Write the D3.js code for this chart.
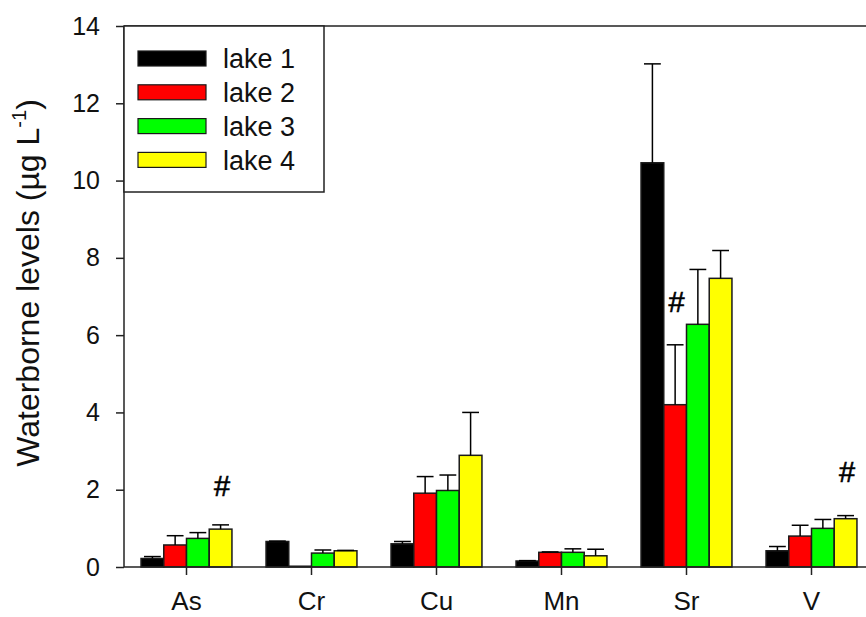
<!DOCTYPE html>
<html>
<head>
<meta charset="utf-8">
<script src="https://cdn.jsdelivr.net/npm/d3@7"></script>
<style>
	body { margin: 0; background: #fff; }
	svg { display: block; font-family: "Liberation Sans", Arial, sans-serif; }
</style>
</head>
<body>
<svg id="chart" width="866" height="617"></svg>
<script>
(function(){

	// metals on the x axis
	var categories = ["As", "Cr", "Cu", "Mn", "Sr", "V"];
	var seriesNames = ["lake 1", "lake 2", "lake 3", "lake 4"];
	var seriesColors = ["#000000", "#ff0000", "#00ff00", "#ffff00"];

	// means (µg/L) per lake, in category order
	var lake1 = [0.22, 0.66, 0.60, 0.155, 10.46, 0.42];
	var lake2 = [0.57, 0.02, 1.91, 0.38, 4.20, 0.80];
	var lake3 = [0.74, 0.36, 1.98, 0.38, 6.28, 1.00];
	var lake4 = [0.98, 0.42, 2.89, 0.29, 7.47, 1.25];

	// upper error (SD) per lake
	var err1 = [0.05, 0.01, 0.06, 0.01, 2.56, 0.11];
	var err2 = [0.24, 0.00, 0.43, 0.01, 1.55, 0.28];
	var err3 = [0.15, 0.08, 0.40, 0.09, 1.42, 0.23];
	var err4 = [0.11, 0.01, 1.11, 0.17, 0.72, 0.08];

	var yTicks = [0, 2, 4, 6, 8, 10, 12, 14];

	// "#" significance marks
	var markCats = ["As", "Sr", "V"];
	var markSeries = ["lake 4", "lake 2", "lake 4"];
	var markLevels = [2.1, 6.85, 2.47];

	var means = [lake1, lake2, lake3, lake4];
	var errs = [err1, err2, err3, err4];

	var bars = [];
	for(var s = 0; s < seriesNames.length; s++){
		for(var c = 0; c < categories.length; c++){
			bars.push({cat: categories[c], series: seriesNames[s], color: seriesColors[s], v: means[s][c], e: errs[s][c]});
		}
	}

	var margin = {top: 26, left: 124, bottom: 50};
	var svg = d3.select("#chart");
	var height = +svg.attr("height") - margin.top - margin.bottom;
	var plotRight = 874;
	var axisColor = "#222";

	var x0 = d3.scaleBand()
		.domain(categories)
		.range([margin.left, plotRight])
		.padding(0);

	var x1 = d3.scaleBand()
		.domain(seriesNames)
		.range([0, x0.bandwidth()])
		.paddingInner(0)
		.paddingOuter(0.75);

	var y = d3.scaleLinear()
		.domain([0, 14])
		.range([margin.top + height, margin.top]);

	var g = svg.append("g");

	// bars
	g.selectAll("rect.bar")
		.data(bars)
		.enter().append("rect")
			.attr("class", "bar")
			.attr("x", function(d){ return x0(d.cat) + x1(d.series); })
			.attr("y", function(d){ return y(d.v); })
			.attr("width", x1.bandwidth())
			.attr("height", function(d){ return y(0) - y(d.v); })
			.attr("fill", function(d){ return d.color; })
			.attr("stroke", "#1a1a1a")
			.attr("stroke-width", 1.5);

	// upper error bars
	var capHalf = x1.bandwidth() * 0.37;
	var eb = g.selectAll("g.err")
		.data(bars.filter(function(d){ return d.e > 0.005; }))
		.enter().append("g")
			.attr("class", "err")
			.attr("stroke", "#000")
			.attr("stroke-width", 1.5);

	eb.append("line")
		.attr("x1", function(d){ return x0(d.cat) + x1(d.series) + x1.bandwidth() / 2; })
		.attr("x2", function(d){ return x0(d.cat) + x1(d.series) + x1.bandwidth() / 2; })
		.attr("y1", function(d){ return y(d.v); })
		.attr("y2", function(d){ return y(d.v + d.e); });

	eb.append("line")
		.attr("x1", function(d){ return x0(d.cat) + x1(d.series) + x1.bandwidth() / 2 - capHalf; })
		.attr("x2", function(d){ return x0(d.cat) + x1(d.series) + x1.bandwidth() / 2 + capHalf; })
		.attr("y1", function(d){ return y(d.v + d.e); })
		.attr("y2", function(d){ return y(d.v + d.e); });

	// axes
	var yAxis = g.append("g")
		.attr("transform", "translate(" + margin.left + ",0)")
		.call(d3.axisLeft(y).tickValues(yTicks).tickSize(8).tickPadding(16));

	var xAxis = g.append("g")
		.attr("transform", "translate(0," + y(0) + ")")
		.call(d3.axisBottom(x0).tickSize(8).tickPadding(17));

	[yAxis, xAxis].forEach(function(a){
		a.select(".domain").attr("stroke", axisColor).attr("stroke-width", 1.5);
		a.selectAll(".tick line").attr("stroke", axisColor).attr("stroke-width", 1.5);
		a.selectAll("text").attr("fill", "#111")
			.style("font-family", "'Liberation Sans', Arial, sans-serif");
	});
	yAxis.selectAll("text").style("font-size", "25px");
	xAxis.selectAll("text").style("font-size", "26px");
	xAxis.select(".domain").attr("d", "M" + margin.left + ",0H" + plotRight);
	yAxis.select(".domain").attr("d", "M0," + y(0) + "V" + y(14));

	// top frame line
	g.append("line")
		.attr("x1", margin.left)
		.attr("x2", plotRight)
		.attr("y1", y(14))
		.attr("y2", y(14))
		.attr("stroke", axisColor)
		.attr("stroke-width", 1.5);

	// y title
	var title = svg.append("text")
		.attr("transform", "translate(39," + 283 + ") rotate(-90)")
		.attr("text-anchor", "middle")
		.style("font-size", "32px")
		.attr("fill", "#111");
	title.append("tspan").text("Waterborne levels (µg L");
	title.append("tspan").text("-1").attr("dy", -13).style("font-size", "20px");
	title.append("tspan").text(")").attr("dy", 13);

	// significance marks
	g.selectAll("text.mark")
		.data(markCats)
		.enter().append("text")
			.attr("class", "mark")
			.attr("x", function(d, i){ return x0(d) + x1(markSeries[i]) + x1.bandwidth() / 2 + 1.5; })
			.attr("y", function(d, i){ return y(markLevels[i]); })
			.attr("dy", "0.35em")
			.attr("text-anchor", "middle")
			.style("font-size", "29px")
			.attr("fill", "#000")
			.attr("stroke", "#000")
			.attr("stroke-width", 0.6)
			.text("#");

	// legend
	var legend = svg.append("g")
		.attr("transform", "translate(" + margin.left + "," + margin.top + ")");

	legend.append("rect")
		.attr("width", 200)
		.attr("height", 166)
		.attr("fill", "#fff")
		.attr("stroke", axisColor)
		.attr("stroke-width", 1.5);

	var item = legend.selectAll("g.item")
		.data(seriesNames)
		.enter().append("g")
			.attr("class", "item")
			.attr("transform", function(d, i){ return "translate(14," + (25 + i * 33.8) + ")"; });

	item.append("rect")
		.attr("width", 68)
		.attr("height", 15)
		.attr("fill", function(d, i){ return seriesColors[i]; })
		.attr("stroke", "#1a1a1a")
		.attr("stroke-width", 1.2);

	item.append("text")
		.attr("x", 85)
		.attr("y", 7.5)
		.attr("dy", "0.36em")
		.style("font-size", "27px")
		.attr("fill", "#111")
		.text(function(d){ return d; });

})();
</script>
</body>
</html>
